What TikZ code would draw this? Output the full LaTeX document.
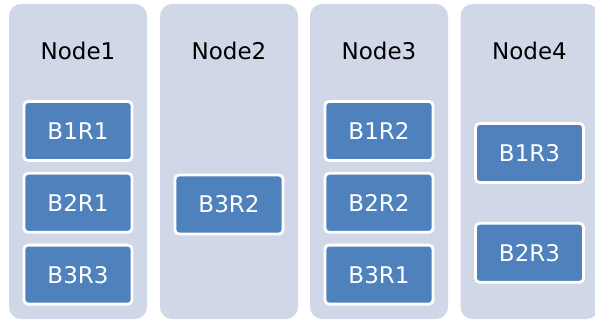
\documentclass[tikz,border=0pt]{standalone}
\usepackage{fontspec}
\setmainfont{DejaVu Sans}
\usetikzlibrary{positioning}
\definecolor{colfill}{HTML}{D0D8E8}
\definecolor{blkfill}{HTML}{4F81BD}

\begin{document}
\begin{tikzpicture}[
  x=1pt, y=-1pt,
  node distance=10pt,
  col/.style={fill=colfill, rounded corners=12pt, minimum width=138pt, minimum height=315pt, inner sep=0pt},
  title/.style={font=\fontsize{23}{27}\selectfont, text=black, anchor=base},
  blk/.style={draw=white, line width=2.8pt, fill=blkfill, rounded corners=4pt, minimum width=108pt, minimum height=59pt,
    text=white, font=\fontsize{23}{27}\selectfont, text height=16.8pt, text depth=0pt}
]
  \useasboundingbox (0,0) rectangle (595,321);
  \clip (0,0) rectangle (595,321);
  % columns
  \node[col] (col1) at (78,161.5) {};
  \node[col] (col2) at (229,161.5) {};
  \node[col] (col3) at (379,161.5) {};
  \node[col] (col4) at (529.5,161.5) {};
  \node[title] (t1) at (col1.center |- 0,60) {Node1};
  \node[title] (t2) at (col2.center |- 0,60) {Node2};
  \node[title] (t3) at (col3.center |- 0,60) {Node3};
  \node[title] (t4) at (col4.center |- 0,60) {Node4};
  % blocks
  \node[blk] (b1r1) at (col1.center |- 0,131) {B1R1};
  \node[blk, below=of b1r1] (b2r1) {B2R1};
  \node[blk, below=of b2r1] (b3r3) {B3R3};
  \node[blk] (b3r2) at (col2.center |- 0,204.5) {B3R2};
  \node[blk] (b1r2) at (col3.center |- 0,131) {B1R2};
  \node[blk, below=of b1r2] (b2r2) {B2R2};
  \node[blk, below=of b2r2] (b3r1) {B3R1};
  \node[blk] (b1r3) at (col4.center |- 0,153) {B1R3};
  \node[blk, below=38pt of b1r3] (b2r3) {B2R3};
\end{tikzpicture}
\end{document}
